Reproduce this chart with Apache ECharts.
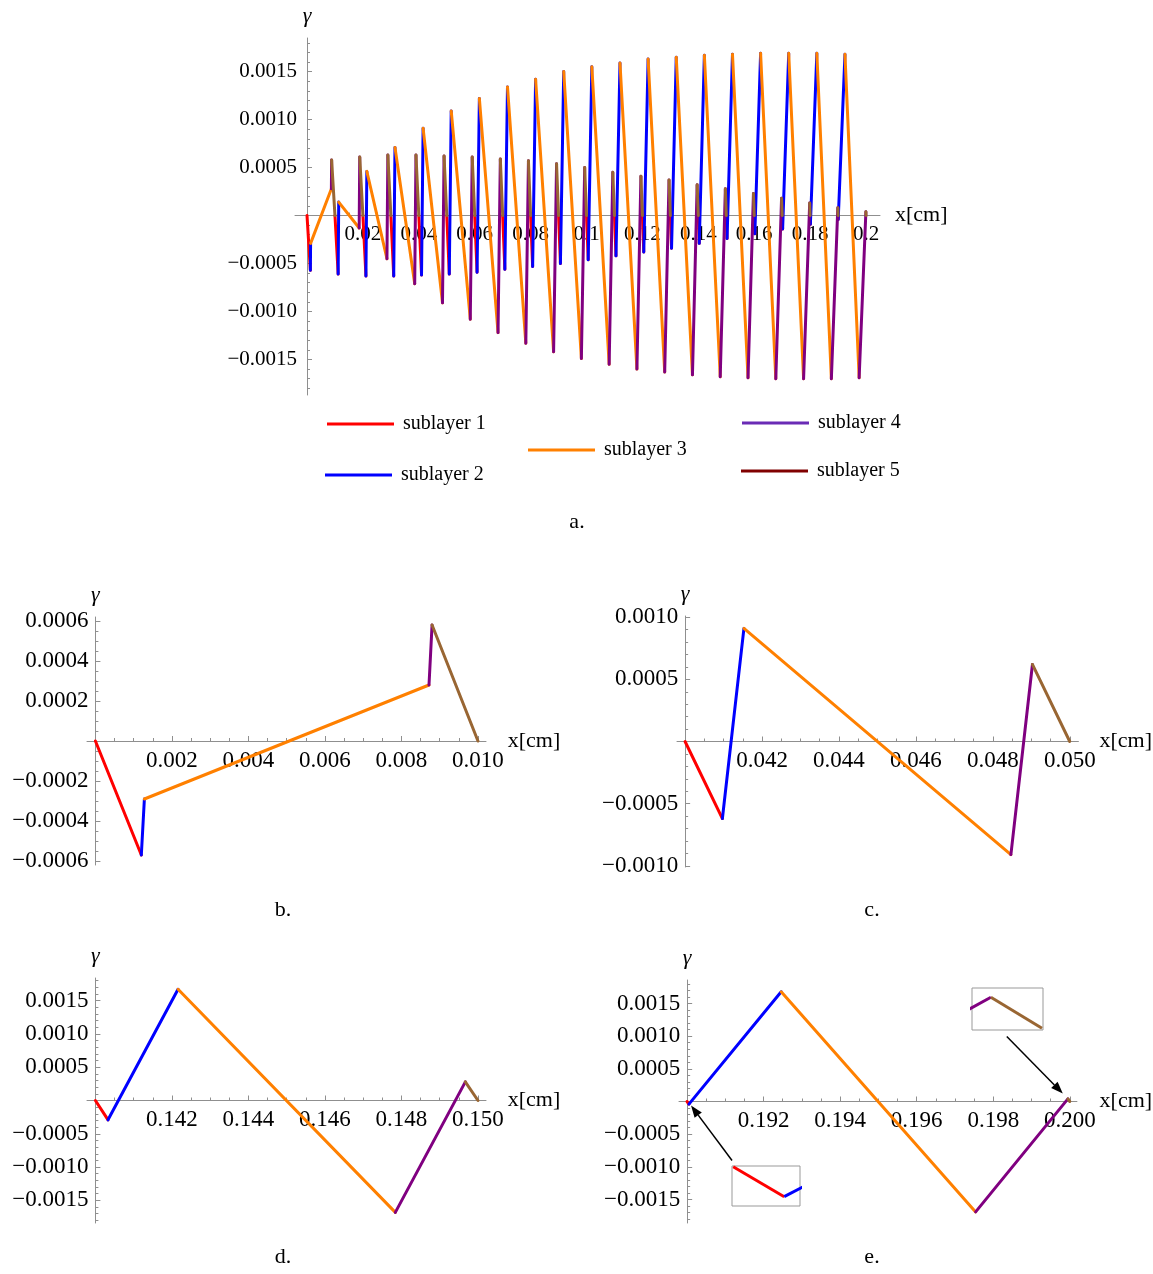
<!DOCTYPE html>
<html><head><meta charset="utf-8">
<script src="https://cdn.jsdelivr.net/npm/echarts@6/dist/echarts.min.js"></script>
<style>html,body{margin:0;padding:0;background:#fff}#c{width:1153px;height:1274px}</style>
</head><body><div id="c"></div>
<script>
// ---------------- data ----------------
const sublayers = ['sublayer 1','sublayer 2','sublayer 3','sublayer 4','sublayer 5'];
const cellStart = [0,0.01,0.02,0.03,0.04,0.05,0.06,0.07,0.08,0.09,0.1,0.11,0.12,0.13,0.14,0.15,0.16,0.17,0.18,0.19];
const cellWidth = 0.01;
// width of sublayer 1 (= sublayer 5) and of sublayers 1+2 (= 4+5) in each cell [cm]
const w1  = [0.0012,0.00114,0.00108,0.00102,0.00097,0.0009,0.00084,0.00078,0.00072,0.00066,0.0006,0.00054,0.00048,0.00042,0.00033,0.00028,0.00022,0.00016,0.0001,0.00005];
const w12 = [0.00128,0.00134,0.0014,0.00147,0.00153,0.00159,0.00166,0.00172,0.00178,0.00184,0.0019,0.00197,0.00203,0.0021,0.00216,0.00222,0.00228,0.00234,0.0024,0.00246];
// gamma at the end of sublayers 1..4 in each cell
const y1 = [-0.00057,-0.00061,-0.00063,-0.00063,-0.00062,-0.00061,-0.00059,-0.00056,-0.00053,-0.0005,-0.00046,-0.00042,-0.00038,-0.00034,-0.00029,-0.00024,-0.00019,-0.00014,-0.00009,-0.00004];
const y2 = [-0.00029,0.00014,0.00046,0.00071,0.00091,0.00109,0.00122,0.00134,0.00142,0.0015,0.00155,0.00159,0.00163,0.00165,0.00167,0.00168,0.00169,0.00169,0.00169,0.00168];
const y3 = [0.00028,-0.00013,-0.00045,-0.00071,-0.00091,-0.00108,-0.00122,-0.00133,-0.00142,-0.00149,-0.00155,-0.0016,-0.00163,-0.00166,-0.00168,-0.00169,-0.0017,-0.0017,-0.0017,-0.00169];
const y4 = [0.00058,0.00061,0.00063,0.00063,0.00062,0.00061,0.00059,0.00057,0.00054,0.0005,0.00045,0.00041,0.00037,0.00032,0.00028,0.00023,0.00018,0.00013,0.00008,0.00004];

// tick labels
const aXTicks = [0.02,0.04,0.06,0.08,0.1,0.12,0.14,0.16,0.18,0.2];
const aXLabels = ['0.02','0.04','0.06','0.08','0.1','0.12','0.14','0.16','0.18','0.2'];
const aYTicks = [-0.0015,-0.001,-0.0005,0.0005,0.001,0.0015];
const aYLabels = ['\u22120.0015','\u22120.0010','\u22120.0005','0.0005','0.0010','0.0015'];
const bXTicks = [0.002,0.004,0.006,0.008,0.01];
const bXLabels = ['0.002','0.004','0.006','0.008','0.010'];
const bYTicks = [-0.0006,-0.0004,-0.0002,0.0002,0.0004,0.0006];
const bYLabels = ['\u22120.0006','\u22120.0004','\u22120.0002','0.0002','0.0004','0.0006'];
const cXTicks = [0.042,0.044,0.046,0.048,0.05];
const cXLabels = ['0.042','0.044','0.046','0.048','0.050'];
const cYTicks = [-0.001,-0.0005,0.0005,0.001];
const cYLabels = ['\u22120.0010','\u22120.0005','0.0005','0.0010'];
const dXTicks = [0.142,0.144,0.146,0.148,0.15];
const dXLabels = ['0.142','0.144','0.146','0.148','0.150'];
const eXTicks = [0.192,0.194,0.196,0.198,0.2];
const eXLabels = ['0.192','0.194','0.196','0.198','0.200'];
const deYTicks = [-0.0015,-0.001,-0.0005,0.0005,0.001,0.0015];
const deYLabels = ['\u22120.0015','\u22120.0010','\u22120.0005','0.0005','0.0010','0.0015'];
const captions = ['a.','b.','c.','d.','e.'];

// ---------------- styling / layout ----------------
const FONT = "'Liberation Serif','Times New Roman',serif";
const COLORS = ['#ff0000','#0000ff','#ff8000','#800080','#996633'];
const LEGEND_COLORS = ['#ff0000','#0000ff','#ff8000','#6a2bb5','#800000'];
const AXC = '#8f8f8f';

function cellGeom(i){
  const x0 = cellStart[i];
  return {xs:[x0, x0+w1[i], x0+w12[i], x0+cellWidth-w12[i], x0+cellWidth-w1[i], x0+cellWidth],
          ys:[0, y1[i], y2[i], y3[i], y4[i], 0]};
}
function steps(from,to,step){const out=[];const n=Math.round((to-from)/step);for(let i=0;i<=n;i++)out.push(+(from+i*step).toFixed(9));return out;}
function lab(ticks,labels){return v=>{for(let j=0;j<ticks.length;j++){if(Math.abs(ticks[j]-v)<1e-9)return labels[j];}return '';};}

const allCells = cellStart.map((_,i)=>i);
const panels = [
  {grid:{left:295,top:38,width:585,height:357}, x:[-0.0043,0.205], y:[-0.00187,0.00185], cross:0, ng:15,
   xt:aXTicks, xl:aXLabels, yt:aYTicks, yl:aYLabels, xm:steps(0,0.2,0.005), ym:steps(-0.0018,0.0018,0.0001), font:21, ylm:10, cells:allCells},
  {grid:{left:87,top:617,width:399,height:248}, x:[-0.00022,0.01021], y:[-0.00062,0.00062], cross:0, ng:10,
   xt:bXTicks, xl:bXLabels, yt:bYTicks, yl:bYLabels, xm:steps(0,0.01,0.0005), ym:steps(-0.0006,0.0006,0.00005), font:23, ylm:7, cells:[0]},
  {grid:{left:677,top:616,width:404,height:251}, x:[0.03979,0.050225], y:[-0.00101,0.00101], cross:0.04, ng:9,
   xt:cXTicks, xl:cXLabels, yt:cYTicks, yl:cYLabels, xm:steps(0.04,0.05,0.0005), ym:steps(-0.001,0.001,0.0001), font:23, ylm:7, cells:[4]},
  {grid:{left:87,top:978,width:399,height:245}, x:[0.13978,0.15021], y:[-0.00184,0.00184], cross:0.14, ng:10,
   xt:dXTicks, xl:dXLabels, yt:deYTicks, yl:deYLabels, xm:steps(0.14,0.15,0.0005), ym:steps(-0.0018,0.0018,0.0001), font:23, ylm:7, cells:[14]},
  {grid:{left:679,top:980,width:404,height:243}, x:[0.18979,0.200186], y:[-0.00186,0.00186], cross:0.19, ng:9,
   xt:eXTicks, xl:eXLabels, yt:deYTicks, yl:deYLabels, xm:steps(0.19,0.2,0.0005), ym:steps(-0.0018,0.0018,0.0001), font:23, ylm:7, cells:[19]}
];
const insets = [
  {grid:{left:732,top:1166,width:68,height:40}, x:[0.18999882,0.19006549], y:[-0.0000524,0.00000093], cell:19, subs:[0,1]},
  {grid:{left:972,top:988,width:71,height:42}, x:[0.19993151,0.200000978], y:[-0.0000022,0.000052], cell:19, subs:[3,4]}
];

const grids=[], xAxes=[], yAxes=[], series=[];
const axisIdx=[];
panels.forEach((p)=>{
  const gi = grids.length;
  grids.push(Object.assign({containLabel:false, show:false}, p.grid));
  // shift axes so that they cross where Mathematica draws them (x = cell start, y = 0)
  const yOff = -(p.cross-p.x[0])/(p.x[1]-p.x[0])*p.grid.width;
  const xOff = -(0-p.y[0])/(p.y[1]-p.y[0])*p.grid.height;
  const xi = xAxes.length, yi = yAxes.length;
  axisIdx.push([xi,yi]);
  xAxes.push({type:'value',gridIndex:gi,min:p.x[0],max:p.x[1],position:'bottom',offset:xOff,
    name:'x[cm]',nameLocation:'end',nameGap:p.ng,nameTextStyle:{fontFamily:FONT,fontSize:22,color:'#000'},
    axisLine:{show:true,onZero:false,lineStyle:{color:AXC,width:1}},
    axisTick:{show:true,inside:true,length:5,customValues:p.xt,lineStyle:{color:AXC,width:1}},
    axisLabel:{show:true,customValues:p.xt,formatter:lab(p.xt,p.xl),margin:8,fontFamily:FONT,fontSize:p.font,color:'#000'},
    splitLine:{show:false}, axisPointer:{show:false}});
  xAxes.push({type:'value',gridIndex:gi,min:p.x[0],max:p.x[1],position:'bottom',offset:xOff,
    axisLine:{show:false,onZero:false},
    axisTick:{show:true,inside:true,length:3,customValues:p.xm,lineStyle:{color:AXC,width:1}},
    axisLabel:{show:false}, splitLine:{show:false}});
  yAxes.push({type:'value',gridIndex:gi,min:p.y[0],max:p.y[1],position:'left',offset:yOff,
    name:'\u03b3',nameLocation:'end',nameGap:11,nameTextStyle:{fontFamily:FONT,fontSize:22,fontStyle:'italic',color:'#000'},
    axisLine:{show:true,onZero:false,lineStyle:{color:AXC,width:1}},
    axisTick:{show:true,inside:true,length:5,customValues:p.yt,lineStyle:{color:AXC,width:1}},
    axisLabel:{show:true,customValues:p.yt,formatter:lab(p.yt,p.yl),margin:p.ylm,fontFamily:FONT,fontSize:p.font,color:'#000'},
    splitLine:{show:false}});
  yAxes.push({type:'value',gridIndex:gi,min:p.y[0],max:p.y[1],position:'left',offset:yOff,
    axisLine:{show:false,onZero:false},
    axisTick:{show:true,inside:true,length:3,customValues:p.ym,lineStyle:{color:AXC,width:1}},
    axisLabel:{show:false}, splitLine:{show:false}});
  sublayers.forEach((nm,k)=>{
    const data=[];
    p.cells.forEach(i=>{
      const c=cellGeom(i);
      data.push([c.xs[k],c.ys[k]],[c.xs[k+1],c.ys[k+1]],[c.xs[k+1],'-']);
    });
    series.push({type:'line',name:nm,xAxisIndex:xi,yAxisIndex:yi,data,showSymbol:false,symbol:'none',
      lineStyle:{width:3,color:COLORS[k],cap:'round',join:'round'},itemStyle:{color:COLORS[k]},
      connectNulls:false,clip:true,silent:true,animation:false});
  });
});
insets.forEach(p=>{
  const gi = grids.length;
  grids.push(Object.assign({containLabel:false, show:true, borderColor:'#999', borderWidth:1, backgroundColor:'#fff'}, p.grid));
  const xi = xAxes.length, yi = yAxes.length;
  xAxes.push({type:'value',gridIndex:gi,min:p.x[0],max:p.x[1],show:false});
  yAxes.push({type:'value',gridIndex:gi,min:p.y[0],max:p.y[1],show:false});
  const c = cellGeom(p.cell);
  p.subs.forEach(k=>{
    series.push({type:'line',name:sublayers[k],xAxisIndex:xi,yAxisIndex:yi,
      data:[[c.xs[k],c.ys[k]],[c.xs[k+1],c.ys[k+1]]],showSymbol:false,symbol:'none',
      lineStyle:{width:3,color:COLORS[k]},itemStyle:{color:COLORS[k]},clip:true,silent:true,animation:false,z:5});
  });
});

const legendPos = [[327,424],[325,475],[528,450],[742,423],[741,471]];
const legends = sublayers.map((nm,k)=>({
  data:[{name:nm,itemStyle:{color:LEGEND_COLORS[k]}}],
  left:legendPos[k][0], top:legendPos[k][1]-10, padding:0, icon:'rect', itemWidth:67, itemHeight:3,
  selectedMode:false, textStyle:{fontFamily:FONT,fontSize:20,color:'#000',padding:[0,0,0,4]}
}));

const chart = echarts.init(document.getElementById('c'));
chart.setOption({
  animation:false,
  backgroundColor:'#fff',
  grid:grids, xAxis:xAxes, yAxis:yAxes, series, legend:legends
});

// annotations: captions and inset arrows
const capPos = [[577,522],[283,910],[872,910],[283,1257],[872,1257]];
const graphics = captions.map((t,i)=>({type:'text',x:capPos[i][0],y:capPos[i][1],
  style:{text:t,fontFamily:FONT,fontSize:22,fill:'#000',textAlign:'center',textVerticalAlign:'middle'}}));
function arrow(tail, tip){
  const dx=tip[0]-tail[0], dy=tip[1]-tail[1], L=Math.hypot(dx,dy), ux=dx/L, uy=dy/L, hl=12, hw=4.5;
  const bx=tip[0]-ux*hl, by=tip[1]-uy*hl;
  return [{type:'line',shape:{x1:tail[0],y1:tail[1],x2:bx,y2:by},style:{stroke:'#000',lineWidth:1.5}},
          {type:'polygon',shape:{points:[tip,[bx-uy*hw,by+ux*hw],[bx+uy*hw,by-ux*hw]]},style:{fill:'#000'}}];
}
const eIdx = axisIdx[4];
const pL = chart.convertToPixel({xAxisIndex:eIdx[0],yAxisIndex:eIdx[1]},[cellStart[19],0]);
const pR = chart.convertToPixel({xAxisIndex:eIdx[0],yAxisIndex:eIdx[1]},[cellStart[19]+cellWidth,0]);
graphics.push(...arrow([pL[0]+45,pL[1]+59],[pL[0]+4,pL[1]+4]));
graphics.push(...arrow([pR[0]-63,pR[1]-65],[pR[0]-7,pR[1]-8]));
chart.setOption({graphic:graphics});
</script></body></html>
